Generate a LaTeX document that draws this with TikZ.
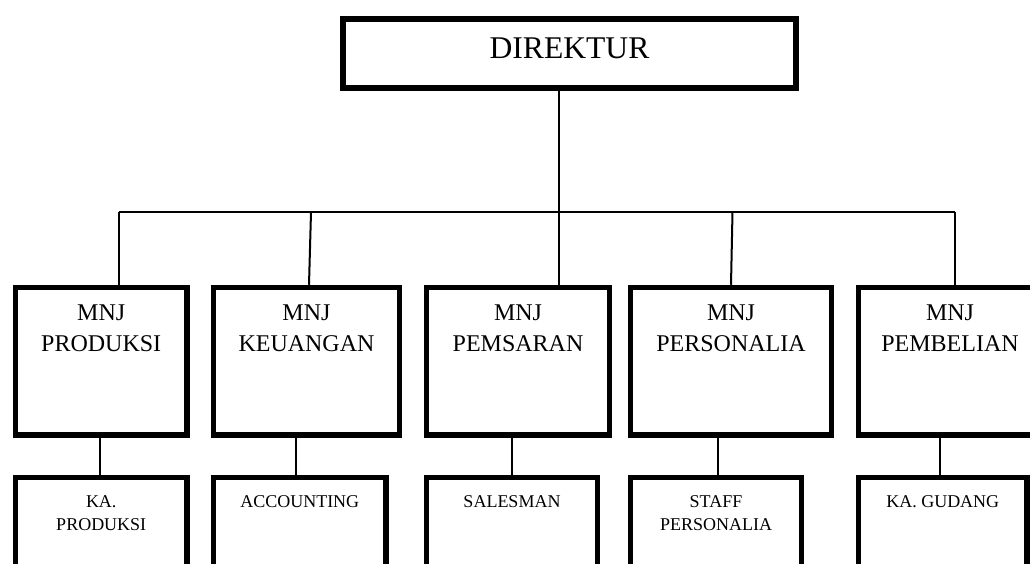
\documentclass[tikz,border=0pt]{standalone}
\usepackage{fontspec}
\setmainfont{Liberation Serif}
\usetikzlibrary{calc}
\tikzset{
  box/.style={draw, line width=5.5pt, inner sep=0pt, anchor=north west},
  dirbox/.style={draw, line width=6pt, inner sep=0pt, anchor=north west},
  conn/.style={line width=2pt},
  t0/.style={font=\fontsize{31.6}{38}\selectfont, inner sep=0pt, anchor=base},
  t2/.style={font=\fontsize{24}{31}\selectfont, align=center, inner sep=0pt, anchor=north},
  t3/.style={font=\fontsize{18}{23}\selectfont, align=center, inner sep=0pt, anchor=north}
}
\begin{document}
\begin{tikzpicture}[x=1pt,y=-1pt]
\useasboundingbox (0,0) rectangle (1030,563);
\clip (0,0) rectangle (1030,563);
\fill[white] (0,0) rectangle (1030,563);

% director
\node[dirbox, minimum width=453pt, minimum height=69pt] (dir) at (340,16) {};
\node[t0] (dirt) at ($(dir.north)+(0,42.3)$) {DIREKTUR};

% level 2
\node[box, minimum width=171.5pt, minimum height=147.5pt] (b1) at (12.75,284.75) {};
\node[box, minimum width=186pt,   minimum height=147.5pt] (b2) at (210.75,284.75) {};
\node[box, minimum width=183pt,   minimum height=147.5pt] (b3) at (423.75,284.75) {};
\node[box, minimum width=201pt,   minimum height=147.5pt] (b4) at (627.75,284.75) {};
\node[box, minimum width=220pt,   minimum height=147.5pt] (b5) at (855.75,284.75) {};

\node[t2] (b1t) at ($(b1.north)+(0,19.5)$) {MNJ\\PRODUKSI};
\node[t2] (b2t) at ($(b2.north)+(0,19.5)$) {MNJ\\KEUANGAN};
\node[t2] (b3t) at ($(b3.north)+(0,19.5)$) {MNJ\\PEMSARAN};
\node[t2] (b4t) at ($(b4.north)+(0,19.5)$) {MNJ\\PERSONALIA};
\node[t2] (b5t) at ($(b5.north)+(-18.5,19.5)$) {MNJ\\PEMBELIAN};

% level 3
\node[box, minimum width=171.5pt, minimum height=150pt] (c1) at (12.75,474.75) {};
\node[box, minimum width=172.5pt, minimum height=150pt] (c2) at (210.75,474.75) {};
\node[box, minimum width=171pt,   minimum height=150pt] (c3) at (423.75,474.75) {};
\node[box, minimum width=171pt,   minimum height=150pt] (c4) at (627.75,474.75) {};
\node[box, minimum width=168.5pt, minimum height=150pt] (c5) at (855.75,474.75) {};

\node[t3] (c1t) at ($(c1.north)+(0,20.5)$) {KA.\\PRODUKSI};
\node[t3] (c2t) at ($(c2.north)+(0,20.5)$) {ACCOUNTING};
\node[t3] (c3t) at ($(c3.north)+(0,20.5)$) {SALESMAN};
\node[t3] (c4t) at ($(c4.north)+(0,20.5)$) {STAFF\\PERSONALIA};
\node[t3] (c5t) at ($(c5.north)+(0,20.5)$) {KA. GUDANG};

% junctions on the bar
\coordinate (j0) at (558.5,212);
\coordinate (j1) at (119,212);
\coordinate (j2) at (311,212);
\coordinate (j4) at (732.5,212);
\coordinate (j5) at (955,212);

% connectors
\draw[conn] (j1) -- (j5);
\draw[line width=2.6pt] ($(j0)+(-24,0)$) -- ($(j0)+(26,0)$);
\draw[conn] (dir.south -| j0) -- (j0 |- b3.north);
\draw[conn] (j1) -- (j1 |- b1.north);
\draw[conn] (j2) -- ($(j2 |- b2.north)+(-2,0)$);
\draw[conn] (j4) -- ($(j4 |- b4.north)+(-1.5,0)$);
\draw[conn] (j5) -- (j5 |- b5.north);

\draw[conn] ($(c1.north)+(-1.5,0)$) coordinate (k1) -- (k1 |- b1.south);
\draw[conn] ($(c2.north)+(-4,0)$) coordinate (k2) -- (k2 |- b2.south);
\draw[conn] ($(c3.north)+(-0.25,0)$) coordinate (k3) -- (k3 |- b3.south);
\draw[conn] ($(c4.north)+(1.75,0)$) coordinate (k4) -- (k4 |- b4.south);
\draw[conn] ($(c5.north)+(-3,0)$) coordinate (k5) -- (k5 |- b5.south);
\end{tikzpicture}
\end{document}
